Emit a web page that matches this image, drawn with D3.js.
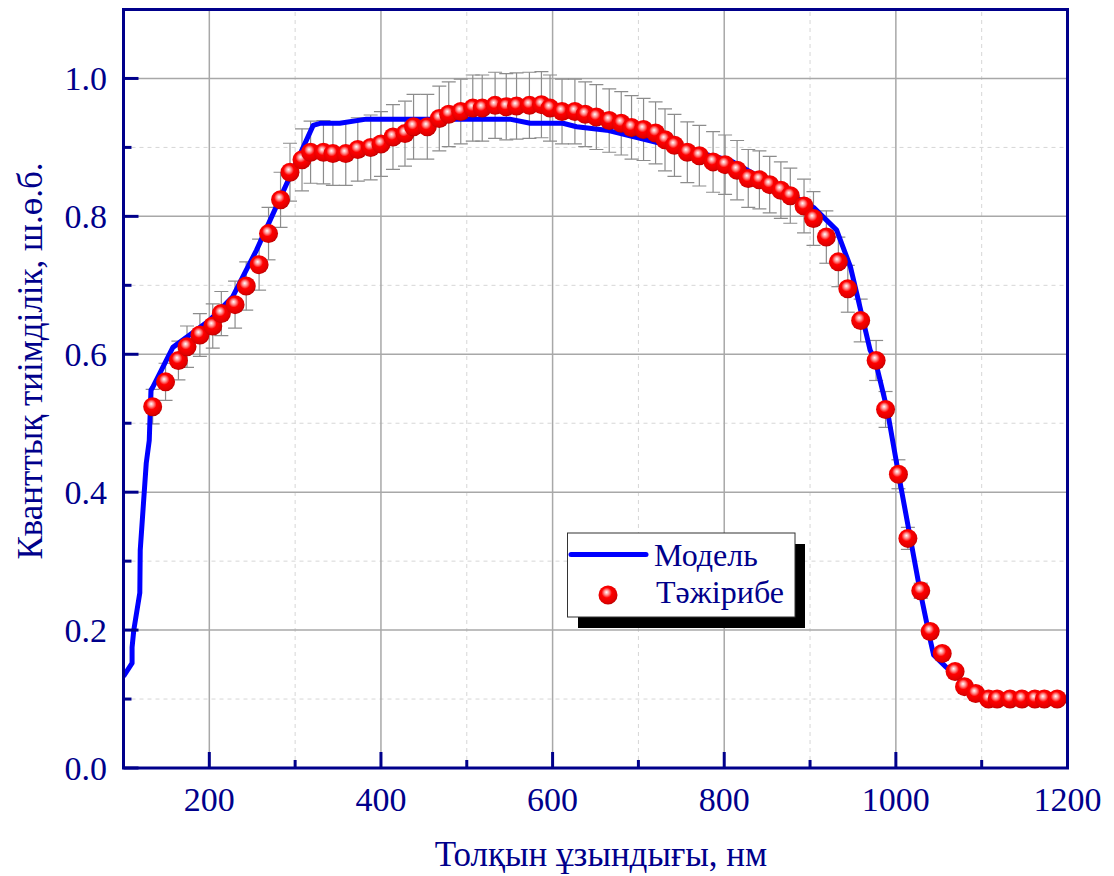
<!DOCTYPE html>
<html>
<head>
<meta charset="utf-8">
<script src="https://cdn.jsdelivr.net/npm/d3@7"></script>
<style>
  html, body { margin: 0; padding: 0; background: #fff; }
  svg { display: block; }
  text { font-family: "Liberation Serif", "Times New Roman", serif; fill: #00008B; }
</style>
</head>
<body>
<script>
// Model curve: wavelength (nm) and quantum efficiency
const modelWavelength = [100, 110, 110, 112, 119, 119.5, 126.5, 130, 132, 134, 157.5, 200, 227, 243, 255, 321, 329, 352, 383, 450, 550, 574, 612, 628, 663, 807, 904, 931, 947, 970, 976, 990, 1003, 1028, 1040, 1044, 1058, 1075, 1104, 1190];
const modelQE = [0.133, 0.152, 0.175, 0.200, 0.254, 0.316, 0.442, 0.475, 0.548, 0.552, 0.610, 0.649, 0.683, 0.722, 0.751, 0.932, 0.935, 0.935, 0.941, 0.941, 0.941, 0.935, 0.935, 0.930, 0.925, 0.881, 0.813, 0.780, 0.727, 0.606, 0.591, 0.519, 0.427, 0.258, 0.186, 0.164, 0.147, 0.128, 0.103, 0.100];

// Measured points with their error bars
const expWavelength = [134, 149, 164, 174, 189, 204, 214, 230, 243, 258, 269, 283, 294, 308, 318, 333, 344, 359, 373, 388, 400, 414, 428, 438, 454, 468, 479, 493, 507, 518, 533, 546, 558, 573, 587, 597, 611, 626, 638, 651, 666, 680, 692, 706, 720, 731, 742, 757, 771, 787, 801, 815, 828, 841, 853, 866, 877, 893, 904, 919, 933, 944, 959, 977, 988, 1003, 1014, 1029, 1040, 1054, 1069, 1080, 1093, 1108, 1118, 1133, 1147, 1162, 1173, 1188];
const expQE = [0.524, 0.560, 0.591, 0.611, 0.628, 0.641, 0.659, 0.672, 0.699, 0.730, 0.775, 0.824, 0.864, 0.882, 0.893, 0.893, 0.891, 0.891, 0.897, 0.900, 0.905, 0.915, 0.920, 0.930, 0.930, 0.942, 0.948, 0.952, 0.957, 0.957, 0.961, 0.959, 0.960, 0.961, 0.962, 0.957, 0.952, 0.952, 0.948, 0.944, 0.939, 0.935, 0.929, 0.926, 0.921, 0.911, 0.903, 0.893, 0.888, 0.879, 0.875, 0.867, 0.855, 0.853, 0.846, 0.838, 0.830, 0.815, 0.797, 0.770, 0.734, 0.695, 0.649, 0.591, 0.520, 0.426, 0.333, 0.257, 0.198, 0.166, 0.140, 0.118, 0.108, 0.100, 0.100, 0.100, 0.100, 0.100, 0.100, 0.100];
const expErr = [0.025, 0.027, 0.028, 0.030, 0.031, 0.032, 0.032, 0.034, 0.035, 0.037, 0.038, 0.040, 0.042, 0.045, 0.045, 0.046, 0.046, 0.046, 0.046, 0.047, 0.047, 0.047, 0.047, 0.047, 0.047, 0.047, 0.047, 0.047, 0.048, 0.048, 0.048, 0.048, 0.048, 0.048, 0.048, 0.048, 0.047, 0.047, 0.047, 0.047, 0.046, 0.046, 0.046, 0.045, 0.045, 0.045, 0.045, 0.044, 0.044, 0.044, 0.043, 0.043, 0.042, 0.042, 0.041, 0.041, 0.040, 0.039, 0.039, 0.038, 0.036, 0.034, 0.031, 0.029, 0.026, 0.021, 0.016, 0.011, 0.008, 0.006, 0.005, 0.005, 0.004, 0.004, 0.004, 0.004, 0.004, 0.004, 0.004, 0.004];

const xMajorTicks = [200, 400, 600, 800, 1000, 1200];
const xMinorTicks = [300, 500, 700, 900, 1100];
const yMajorTicks = [0.0, 0.2, 0.4, 0.6, 0.8, 1.0];
const yMinorTicks = [0.1, 0.3, 0.5, 0.7, 0.9];

const seriesNames = ["Модель", "Тәжірибе"];
const xTitle = "Толқын ұзындығы, нм";
const yTitle = "Кванттық тиімділік, ш.ө.б.";

const W = 1114, H = 876;
const navy = "#00008B";

const svg = d3.select("body").append("svg").attr("width", W).attr("height", H);

const x = d3.scaleLinear().domain([100, 1200]).range([123.5, 1067.5]);
const y = d3.scaleLinear().domain([0, 1.1]).range([768, 9.5]);

const defs = svg.append("defs");
const grad = defs.append("radialGradient").attr("id", "ball")
  .attr("cx", "0.45").attr("cy", "0.42").attr("r", "0.6")
  .attr("fx", "0.42").attr("fy", "0.35");
grad.append("stop").attr("offset", "0%").attr("stop-color", "#ffffff");
grad.append("stop").attr("offset", "22%").attr("stop-color", "#ff9090");
grad.append("stop").attr("offset", "45%").attr("stop-color", "#ff0000");
grad.append("stop").attr("offset", "85%").attr("stop-color", "#e00000");
grad.append("stop").attr("offset", "100%").attr("stop-color", "#b00000");

defs.append("clipPath").attr("id", "plotClip").append("rect")
  .attr("x", x(100)).attr("y", y(1.1)).attr("width", x(1200) - x(100)).attr("height", y(0) - y(1.1));

// Grid
const grid = svg.append("g");
grid.selectAll(".vmin").data(xMinorTicks).join("line")
  .attr("x1", d => x(d)).attr("x2", d => x(d)).attr("y1", y(0)).attr("y2", y(1.1))
  .attr("stroke", "#d6d6d6").attr("stroke-width", 1).attr("stroke-dasharray", "4,4");
grid.selectAll(".hmin").data(yMinorTicks).join("line")
  .attr("x1", x(100)).attr("x2", x(1200)).attr("y1", d => y(d)).attr("y2", d => y(d))
  .attr("stroke", "#d6d6d6").attr("stroke-width", 1).attr("stroke-dasharray", "4,4");
grid.selectAll(".vmaj").data(xMajorTicks).join("line")
  .attr("x1", d => x(d)).attr("x2", d => x(d)).attr("y1", y(0)).attr("y2", y(1.1))
  .attr("stroke", "#a8a8a8").attr("stroke-width", 1.5);
grid.selectAll(".hmaj").data(yMajorTicks).join("line")
  .attr("x1", x(100)).attr("x2", x(1200)).attr("y1", d => y(d)).attr("y2", d => y(d))
  .attr("stroke", "#a8a8a8").attr("stroke-width", 1.5);

const plot = svg.append("g").attr("clip-path", "url(#plotClip)");
const pts = expWavelength.map((w, i) => ({ w, q: expQE[i], e: expErr[i] }));

// Error bars
const eb = plot.append("g").attr("stroke", "#8c8c8c").attr("stroke-width", 1.2).attr("fill", "none");
pts.forEach(p => {
  const cx = x(p.w), y1 = y(p.q + p.e), y2 = y(p.q - p.e);
  eb.append("line").attr("x1", cx).attr("x2", cx).attr("y1", y1).attr("y2", y2);
  eb.append("line").attr("x1", cx - 7).attr("x2", cx + 7).attr("y1", y1).attr("y2", y1);
  eb.append("line").attr("x1", cx - 7).attr("x2", cx + 7).attr("y1", y2).attr("y2", y2);
});

// Model line
const line = d3.line().x((d, i) => x(modelWavelength[i])).y(d => y(d));
plot.append("path").datum(modelQE).attr("d", line)
  .attr("fill", "none").attr("stroke", "#0000FF").attr("stroke-width", 5)
  .attr("stroke-linejoin", "round");

// Measured points
plot.append("g").selectAll("circle").data(pts).join("circle")
  .attr("cx", d => x(d.w)).attr("cy", d => y(d.q)).attr("r", 9.5)
  .attr("fill", "url(#ball)");

// Axes frame
const axisG = svg.append("g");
axisG.append("rect").attr("x", x(100)).attr("y", y(1.1))
  .attr("width", x(1200) - x(100)).attr("height", y(0) - y(1.1))
  .attr("fill", "none").attr("stroke", navy).attr("stroke-width", 3);

// Bottom ticks (pointing in)
axisG.selectAll(".xt").data(xMajorTicks).join("line")
  .attr("x1", d => x(d)).attr("x2", d => x(d)).attr("y1", y(0)).attr("y2", y(0) - 16)
  .attr("stroke", navy).attr("stroke-width", 3);
axisG.selectAll(".xtm").data(xMinorTicks).join("line")
  .attr("x1", d => x(d)).attr("x2", d => x(d)).attr("y1", y(0)).attr("y2", y(0) - 8)
  .attr("stroke", navy).attr("stroke-width", 3);
// Left ticks
axisG.selectAll(".yt").data(yMajorTicks).join("line")
  .attr("x1", x(100)).attr("x2", x(100) + 15).attr("y1", d => y(d)).attr("y2", d => y(d))
  .attr("stroke", navy).attr("stroke-width", 3);
axisG.selectAll(".ytm").data(yMinorTicks).join("line")
  .attr("x1", x(100)).attr("x2", x(100) + 8).attr("y1", d => y(d)).attr("y2", d => y(d))
  .attr("stroke", navy).attr("stroke-width", 3);

// Tick labels
axisG.selectAll(".xl").data(xMajorTicks).join("text")
  .attr("x", d => x(d)).attr("y", 811).attr("text-anchor", "middle")
  .attr("font-size", 34).text(d => d);
axisG.selectAll(".yl").data(yMajorTicks).join("text")
  .attr("x", 107).attr("y", d => y(d) + 11.5).attr("text-anchor", "end")
  .attr("font-size", 34).text(d => d3.format(".1f")(d));

// Axis titles
svg.append("text").attr("x", 601).attr("y", 866).attr("text-anchor", "middle")
  .attr("font-size", 35).text(xTitle);
svg.append("text").attr("transform", "translate(42,361) rotate(-90)")
  .attr("text-anchor", "middle").attr("font-size", 35).text(yTitle);

// Legend
const lg = svg.append("g");
lg.append("rect").attr("x", 578).attr("y", 544).attr("width", 227).attr("height", 84).attr("fill", "#000");
lg.append("rect").attr("x", 567.5).attr("y", 533).attr("width", 227.5).attr("height", 84)
  .attr("fill", "#fff").attr("stroke", "#333").attr("stroke-width", 1);
lg.append("line").attr("x1", 571).attr("x2", 646).attr("y1", 554.5).attr("y2", 554.5)
  .attr("stroke", "#0000FF").attr("stroke-width", 5).attr("stroke-linecap", "round");
lg.append("circle").attr("cx", 608).attr("cy", 595).attr("r", 9.5).attr("fill", "url(#ball)");
lg.append("text").attr("x", 654).attr("y", 566).attr("font-size", 32).text(seriesNames[0]);
lg.append("text").attr("x", 656).attr("y", 603).attr("font-size", 32).text(seriesNames[1]);
</script>
</body>
</html>
